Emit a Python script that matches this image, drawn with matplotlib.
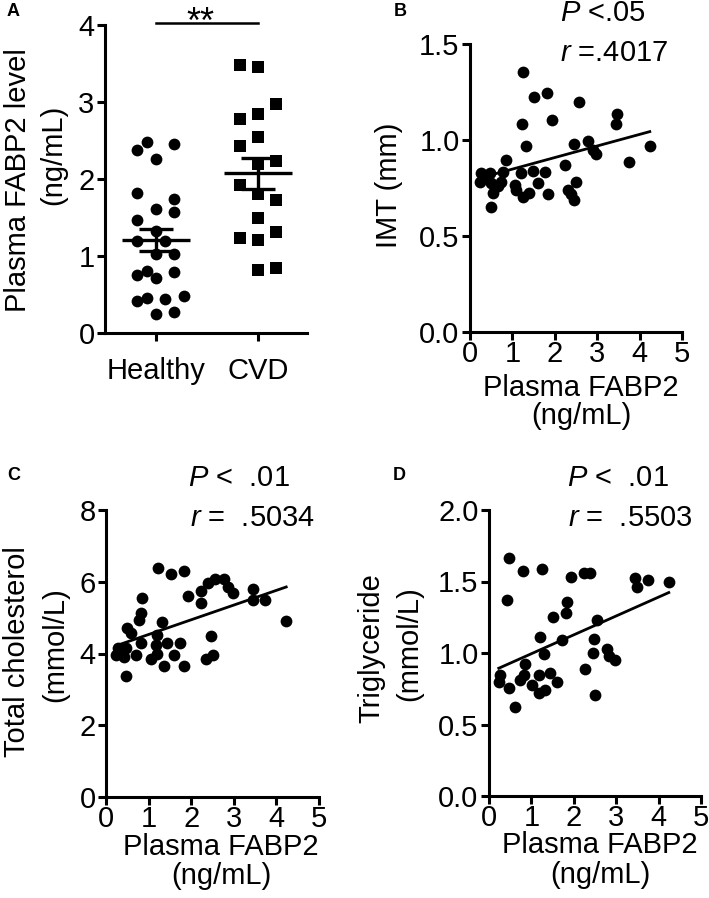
import numpy as np
import matplotlib
matplotlib.use('Agg')
import matplotlib.pyplot as plt

plt.rcParams['font.family'] = ['Liberation Sans', 'DejaVu Sans']
plt.rcParams['mathtext.fontset'] = 'custom'
plt.rcParams['mathtext.it'] = 'Liberation Sans:italic'
plt.rcParams['mathtext.rm'] = 'Liberation Sans'

FS = 21

# ---- Panel A: plasma FABP2, healthy vs CVD ----
groups = ['Healthy', 'CVD']
healthy = [2.38, 2.48, 2.45, 2.26, 1.82, 1.74, 1.61, 1.57, 1.47, 1.32, 1.19, 1.19,
           1.03, 1.03, 0.75, 0.81, 0.71, 0.79, 0.42, 0.46, 0.44, 0.48, 0.25, 0.27]
healthy_dx = [-0.19, -0.09, 0.18, 0.0, -0.19, 0.18, 0.0, 0.18, -0.19, 0.0, -0.19, 0.09,
              0.0, 0.18, -0.19, -0.09, 0.0, 0.18, -0.19, -0.09, 0.09, 0.27, 0.0, 0.18]
cvd = [3.48, 3.45, 2.97, 2.78, 2.84, 2.55, 2.43, 2.24, 2.20, 1.92, 1.81, 1.73,
       1.49, 1.24, 1.21, 1.31, 0.82, 0.84]
cvd_dx = [-0.18, 0.0, 0.18, -0.18, 0.0, 0.0, -0.18, 0.18, 0.0, -0.18, 0.0, 0.18,
          0.0, -0.18, 0.0, 0.18, 0.0, 0.18]

# ---- Panel B: IMT vs FABP2 ----
b_x = [1.25, 1.51, 1.82, 2.56, 1.23, 1.94, 3.47, 3.45, 1.33, 2.45, 2.78, 2.89, 2.98,
       4.24, 3.74, 2.24, 0.85, 0.27, 0.46, 0.78, 1.21, 1.48, 1.76, 0.23, 0.50, 0.74,
       1.05, 1.60, 0.54, 1.09, 1.25, 1.40, 1.84, 2.30, 2.50, 2.46, 0.49, 2.38, 0.35, 0.65]
b_y = [1.355, 1.224, 1.244, 1.196, 1.085, 1.105, 1.137, 1.085, 0.970, 0.978, 0.997,
       0.950, 0.928, 0.970, 0.888, 0.868, 0.897, 0.827, 0.827, 0.835, 0.827, 0.840,
       0.835, 0.783, 0.775, 0.783, 0.766, 0.778, 0.723, 0.740, 0.705, 0.723, 0.720,
       0.740, 0.780, 0.690, 0.653, 0.720, 0.80, 0.76]
b_fit = (0.0603, 0.788)

# ---- Panel C: total cholesterol vs FABP2 ----
c_x = [1.23, 1.52, 1.82, 1.93, 2.24, 2.23, 2.40, 2.56, 2.78, 2.87, 2.99, 3.46, 3.46,
       3.73, 4.23, 0.85, 0.81, 0.78, 1.32, 0.50, 0.58, 1.20, 2.46, 0.27, 0.46, 0.81,
       1.17, 1.44, 1.74, 0.23, 0.42, 0.70, 1.05, 1.20, 1.60, 1.35, 1.83, 2.34, 2.50, 0.46]
c_y = [6.39, 6.22, 6.31, 5.60, 5.74, 5.41, 5.96, 6.07, 6.07, 5.86, 5.69, 5.79, 5.49,
       5.49, 4.90, 5.55, 5.12, 4.93, 4.88, 4.70, 4.56, 4.51, 4.48, 4.14, 4.14, 4.28,
       4.23, 4.28, 4.28, 3.95, 3.91, 3.95, 3.86, 4.00, 3.95, 3.65, 3.65, 3.86, 3.95, 3.37]
c_fit = (0.41, 4.12)

# ---- Panel D: triglyceride vs FABP2 ----
d_x = [0.46, 0.81, 1.24, 1.93, 2.25, 2.39, 3.45, 3.49, 3.74, 4.24, 0.43, 1.84, 1.82,
       1.50, 2.54, 1.21, 1.72, 2.48, 1.30, 2.45, 2.78, 2.84, 2.98, 0.85, 0.27, 0.23,
       0.46, 0.74, 0.82, 1.17, 1.45, 1.61, 1.02, 1.17, 1.33, 2.27, 2.49, 0.61]
d_y = [1.667, 1.576, 1.587, 1.534, 1.557, 1.557, 1.522, 1.464, 1.510, 1.499, 1.371,
       1.354, 1.277, 1.254, 1.231, 1.114, 1.091, 1.098, 0.991, 1.000, 1.026, 0.980,
       0.951, 0.921, 0.846, 0.800, 0.753, 0.810, 0.846, 0.846, 0.862, 0.800, 0.776,
       0.718, 0.740, 0.886, 0.706, 0.625]
d_fit = (0.132, 0.863)

W, H = 709, 898
fig = plt.figure(figsize=(W / 100, H / 100), dpi=100)


def px_ax(l, t, r, b):
    return fig.add_axes([l / W, 1 - b / H, (r - l) / W, (b - t) / H])


def ftext(x, y, s, **kw):
    kw.setdefault('fontsize', FS)
    kw.setdefault('ha', 'center')
    kw.setdefault('va', 'center')
    fig.text(x / W, 1 - y / H, s, **kw)


def style(ax):
    for side in ('top', 'right'):
        ax.spines[side].set_visible(False)
    for side in ('left', 'bottom'):
        ax.spines[side].set_linewidth(2.2)
    ax.tick_params(direction='out', length=5.5, width=2.2, labelsize=FS, pad=2)


# Panel A
axA = px_ax(105, 25, 307, 333)
style(axA)
xpos = np.arange(1, len(groups) + 1)
axA.scatter(xpos[0] + np.array(healthy_dx), healthy, s=72, marker='o', color='black',
            linewidths=0, zorder=3, clip_on=False)
axA.scatter(xpos[1] + np.array(cvd_dx), cvd, s=84, marker='s', color='black',
            linewidths=0, zorder=3, clip_on=False)
for xp, vals in zip(xpos, [healthy, cvd]):
    v = np.array(vals)
    m = v.mean()
    se = v.std(ddof=1) / np.sqrt(len(v))
    axA.hlines(m, xp - 0.33, xp + 0.33, color='black', lw=2.4, zorder=4)
    axA.hlines([m - se, m + se], xp - 0.17, xp + 0.17, color='black', lw=2.4, zorder=4)
    axA.vlines(xp, m - se, m + se, color='black', lw=2.4, zorder=4)
axA.set_xlim(0.5, 2.48)
axA.set_ylim(0, 4)
axA.set_yticks([0, 1, 2, 3, 4])
axA.set_xticks(xpos)
axA.set_xticklabels(groups)
axA.tick_params(axis='x', pad=12)
axA.plot([1, 2], [4.02, 4.02], color='black', lw=1.8, clip_on=False)
ftext(200, 33, '**', fontsize=26, va='baseline')
ftext(13, 12, 'A', fontsize=13, fontweight='bold')
ftext(18, 180, 'Plasma FABP2 level', rotation=90)
ftext(53, 155, '(ng/mL)', rotation=90)


def scatter_panel(ax, xs, ys, fit, ylim, yticks, fmt):
    style(ax)
    ax.scatter(xs, ys, s=72, marker='o', color='black', linewidths=0, zorder=3)
    xx = np.array([min(xs), max(xs)])
    ax.plot(xx, fit[0] * xx + fit[1], color='black', lw=2, zorder=2)
    ax.set_xlim(0, 5)
    ax.set_ylim(*ylim)
    ax.set_xticks([0, 1, 2, 3, 4, 5])
    ax.set_yticks(yticks)
    ax.set_yticklabels([fmt.format(t) for t in yticks])
    ax.tick_params(axis='x', pad=0.5)


# Panel B
axB = px_ax(470, 44, 682, 332)
scatter_panel(axB, b_x, b_y, b_fit, (0, 1.5), [0, 0.5, 1.0, 1.5], '{:.1f}')
ftext(400, 12, 'B', fontsize=13, fontweight='bold')
ftext(560, 13, '$P$ <.05', ha='left')
ftext(560, 53, '$r$ =.4017', ha='left')
ftext(389, 185, 'IMT (mm)', rotation=90)
ftext(581, 388, 'Plasma FABP2')
ftext(581, 416, '(ng/mL)')

# Panel C
axC = px_ax(106, 510, 319, 797)
scatter_panel(axC, c_x, c_y, c_fit, (0, 8), [0, 2, 4, 6, 8], '{:.0f}')
ftext(14, 475, 'C', fontsize=13, fontweight='bold')
ftext(188, 478, '$P$ <  .01', ha='left')
ftext(190, 518, '$r$ =  .5034', ha='left')
ftext(17, 652, 'Total cholesterol', rotation=90)
ftext(55, 645, '(mmol/L)', rotation=90)
ftext(221, 847, 'Plasma FABP2')
ftext(221, 876, '(ng/mL)')

# Panel D
axD = px_ax(489, 510, 701, 796)
scatter_panel(axD, d_x, d_y, d_fit, (0, 2.0), [0, 0.5, 1.0, 1.5, 2.0], '{:.1f}')
ftext(399, 475, 'D', fontsize=13, fontweight='bold')
ftext(567, 478, '$P$ <  .01', ha='left')
ftext(568, 518, '$r$ =  .5503', ha='left')
ftext(371, 648, 'Triglyceride', rotation=90)
ftext(409, 644, '(mmol/L)', rotation=90)
ftext(600, 845, 'Plasma FABP2')
ftext(600, 875, '(ng/mL)')

fig.savefig('out.png', dpi=100)
